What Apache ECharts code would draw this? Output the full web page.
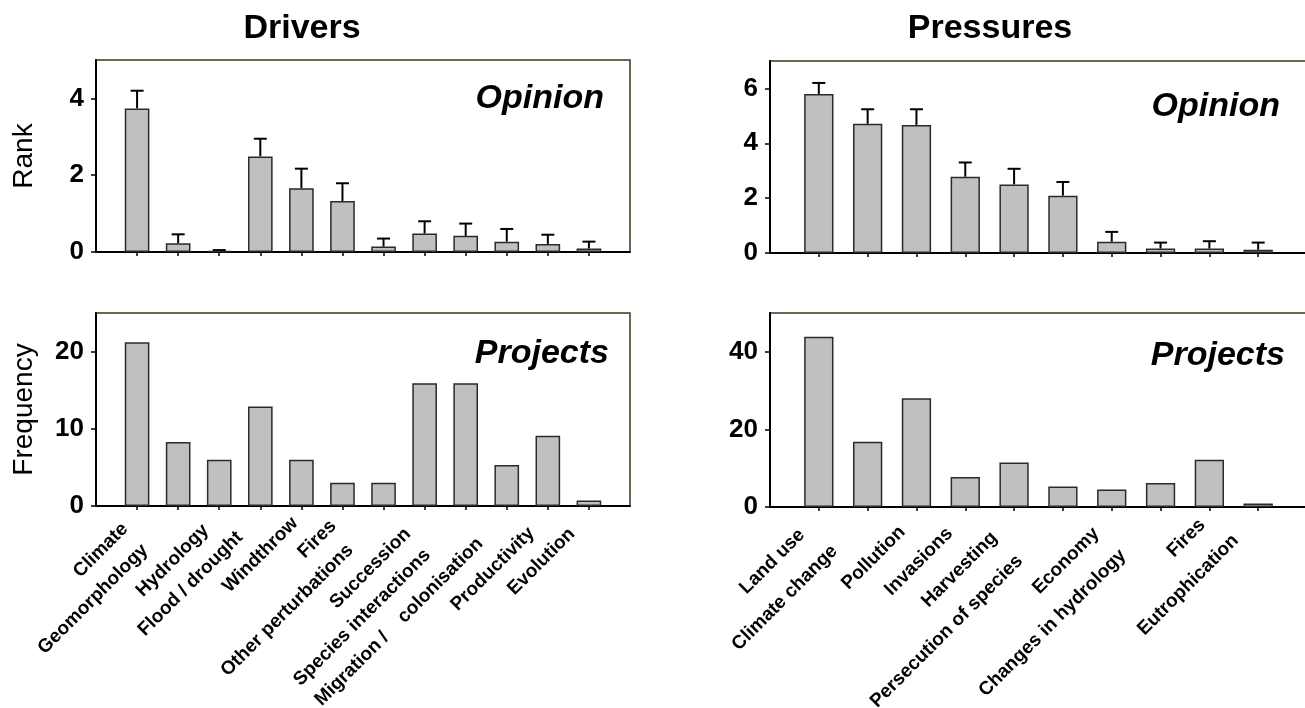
<!DOCTYPE html>
<html>
<head>
<meta charset="utf-8">
<title>Drivers and Pressures</title>
<script src="https://cdn.jsdelivr.net/npm/echarts@6/dist/echarts.min.js"></script>
<style>
  html, body { margin: 0; padding: 0; background: #fff; }
  #chart { width: 1305px; height: 708px; }
</style>
</head>
<body>
<div id="chart"></div>
<script>
// ---- data ----
const driverNames = ['Climate', 'Geomorphology', 'Hydrology', 'Flood / drought', 'Windthrow', 'Fires',
  'Other perturbations', 'Succession', 'Species interactions', 'Migration /    colonisation',
  'Productivity', 'Evolution'];
const driverRank = [3.74, 0.23, 0.03, 2.49, 1.66, 1.33, 0.14, 0.48, 0.42, 0.27, 0.21, 0.09];
const driverRankErr = [0.46, 0.23, 0.02, 0.46, 0.51, 0.46, 0.21, 0.32, 0.32, 0.33, 0.24, 0.18];
const driverFreq = [21.2, 8.3, 6.0, 12.9, 6.0, 3.0, 3.0, 15.9, 15.9, 5.3, 9.1, 0.7];

const pressureNames = ['Land use', 'Climate change', 'Pollution', 'Invasions', 'Harvesting',
  'Persecution of species', 'Economy', 'Changes in hydrology', 'Fires', 'Eutrophication'];
const pressureRank = [5.80, 4.71, 4.67, 2.78, 2.50, 2.09, 0.41, 0.16, 0.16, 0.12];
const pressureRankErr = [0.40, 0.53, 0.57, 0.52, 0.57, 0.50, 0.36, 0.22, 0.27, 0.26];
const pressureFreq = [43.9, 16.8, 28.0, 7.7, 11.5, 5.3, 4.5, 6.2, 12.2, 0.9];

// y-axis extents: [max, tick step]
const driverRankAxis = [5, 2];
const pressureRankAxis = [7, 2];
const driverFreqAxis = [25, 10];
const pressureFreqAxis = [50, 20];

// ---- layout of the staggered category labels: [padding-right, padding-top] ----
const driverLabelPad = [[17, 20], [47, 23], [19, 22], [29, 25], [9, 41], [13, 16],
  [47, 26], [24, 21], [54, 17], [38, 16], [23, 15], [24, 11]];
const pressureLabelPad = [[24, 9], [47, 15], [20, 12], [22, 18], [28, 16], [61, 15],
  [22, 9], [53, 16], [10, 23], [32, 22]];

const FONT = "'Liberation Sans', Arial, Helvetica, sans-serif";
const INK = '#000';
const FRAME = '#3a3a1c';

// one empty slot on each side of the categories keeps the bars inset from the frame
function padded(names, pads) {
  const items = names.map((n, i) => ({
    value: n,
    textStyle: { padding: [pads[i][1], pads[i][0], 0, 0] }
  }));
  return [{ value: ' ' }].concat(items, [{ value: '  ' }]);
}
function paddedValues(vals) {
  return ['-'].concat(vals, ['-']);
}

const grids = [
  { left: 96, top: 60, width: 534, height: 192 },   // drivers / opinion
  { left: 770, top: 61, width: 537, height: 192 },  // pressures / opinion
  { left: 96, top: 313, width: 534, height: 193 },  // drivers / projects
  { left: 770, top: 313, width: 537, height: 194 }  // pressures / projects
].map(g => Object.assign(g, {
  show: true, borderColor: FRAME, borderWidth: 1.5, backgroundColor: 'transparent',
  containLabel: false, outerBoundsMode: 'none'
}));

function xAxis(gridIndex, names, pads, showLabels) {
  return {
    type: 'category', gridIndex: gridIndex, boundaryGap: false,
    data: padded(names, pads),
    axisLine: { show: true, onZero: false, lineStyle: { color: INK, width: 2 } },
    axisTick: {
      show: true, length: 4, inside: false,
      interval: (idx) => idx > 0 && idx <= names.length,
      lineStyle: { color: INK, width: 1.5 }
    },
    axisLabel: {
      show: showLabels, interval: 0, rotate: 45, margin: 8, hideOverlap: false,
      fontFamily: FONT, fontSize: 19, fontWeight: 'bold', color: INK
    },
    splitLine: { show: false }
  };
}

function yAxis(gridIndex, ext, name) {
  return {
    type: 'value', gridIndex: gridIndex, min: 0, max: ext[0], interval: ext[1],
    axisLine: { show: true, lineStyle: { color: INK, width: 2 } },
    axisTick: { show: true, length: 5, lineStyle: { color: INK, width: 1.5 } },
    axisLabel: {
      margin: 12, showMaxLabel: false, fontFamily: FONT, fontSize: 26,
      fontWeight: 'bold', color: INK
    },
    splitLine: { show: false },
    name: name || '', nameLocation: 'middle', nameGap: 58, nameMoveOverlap: false,
    nameTextStyle: { fontFamily: FONT, fontSize: 28, fontWeight: 'normal', color: INK }
  };
}

function bars(idx, vals) {
  return {
    type: 'bar', xAxisIndex: idx, yAxisIndex: idx, barWidth: '60%',
    data: paddedValues(vals),
    itemStyle: { color: '#c0c0c0', borderColor: '#2a2a2a', borderWidth: 1.5 },
    emphasis: { disabled: true }, z: 3
  };
}

// upper error whiskers with a short cap
function whiskers(idx, means, errs) {
  return {
    type: 'custom', xAxisIndex: idx, yAxisIndex: idx,
    data: means.map((m, i) => [i + 1, m, m + errs[i]]),
    encode: { x: 0, y: [1, 2] },
    renderItem: function (params, api) {
      const base = api.coord([api.value(0), api.value(1)]);
      const top = api.coord([api.value(0), api.value(2)]);
      const half = 6.5;
      return {
        type: 'group',
        children: [
          { type: 'line', shape: { x1: base[0], y1: base[1], x2: top[0], y2: top[1] },
            style: { stroke: INK, lineWidth: 2 } },
          { type: 'line', shape: { x1: top[0] - half, y1: top[1], x2: top[0] + half, y2: top[1] },
            style: { stroke: INK, lineWidth: 2 } }
        ]
      };
    },
    z: 2, silent: true
  };
}

function heading(text, x, y, size, italic, align) {
  return {
    type: 'text', x: x, y: y, silent: true,
    style: {
      text: text, fill: INK, align: align || 'center', verticalAlign: 'middle',
      font: (italic ? 'italic ' : '') + 'bold ' + size + 'px ' + FONT
    }
  };
}

const option = {
  animation: false,
  backgroundColor: '#fff',
  grid: grids,
  xAxis: [
    xAxis(0, driverNames, driverLabelPad, false),
    xAxis(1, pressureNames, pressureLabelPad, false),
    xAxis(2, driverNames, driverLabelPad, true),
    xAxis(3, pressureNames, pressureLabelPad, true)
  ],
  yAxis: [
    yAxis(0, driverRankAxis, 'Rank'),
    yAxis(1, pressureRankAxis),
    yAxis(2, driverFreqAxis, 'Frequency'),
    yAxis(3, pressureFreqAxis)
  ],
  series: [
    bars(0, driverRank), whiskers(0, driverRank, driverRankErr),
    bars(1, pressureRank), whiskers(1, pressureRank, pressureRankErr),
    bars(2, driverFreq),
    bars(3, pressureFreq)
  ],
  graphic: [
    heading('Drivers', 302, 29, 34, false),
    heading('Pressures', 990, 29, 34, false),
    heading('Opinion', 604, 99, 34, true, 'right'),
    heading('Opinion', 1280, 107, 34, true, 'right'),
    heading('Projects', 609, 354, 34, true, 'right'),
    heading('Projects', 1285, 356, 34, true, 'right')
  ]
};

const chart = echarts.init(document.getElementById('chart'), null, { renderer: 'canvas' });
chart.setOption(option);
</script>
</body>
</html>
